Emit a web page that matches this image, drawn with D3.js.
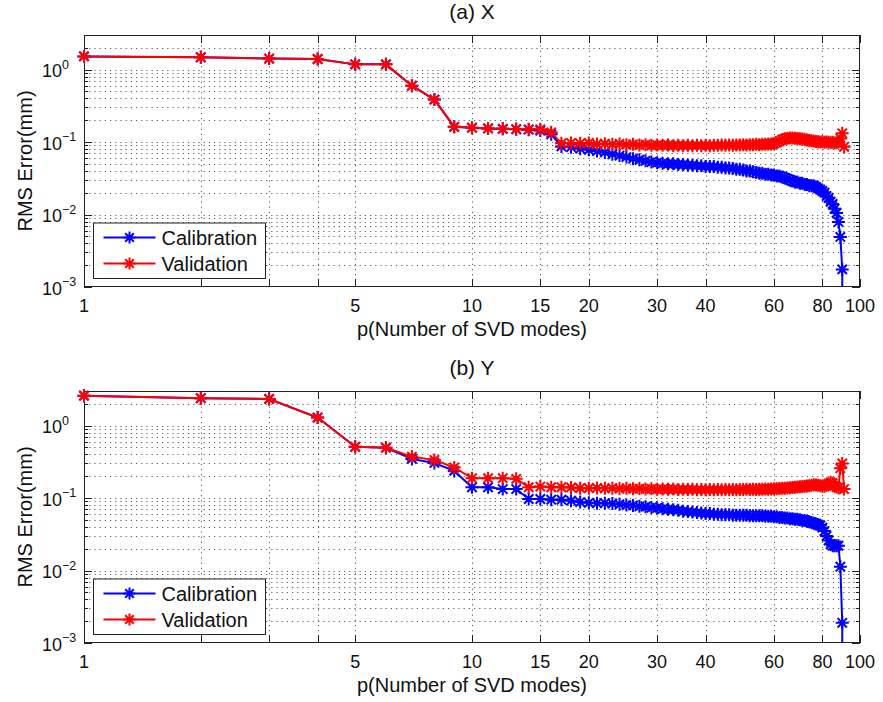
<!DOCTYPE html>
<html><head><meta charset="utf-8">
<script src="https://cdn.jsdelivr.net/npm/d3@7"></script>
<style>
html,body{margin:0;padding:0;background:#fff;}
svg{display:block;font-family:"Liberation Sans",Arial,sans-serif;}
</style></head><body>
<svg id="chart" width="883" height="702"></svg>
<script>
// RMS error vs. number of SVD modes, p = 1, 2, 3, ...
const calX = [1.52,1.48,1.42,1.40,1.18,1.18,0.60,0.385,0.162,0.158,
 0.154,0.152,0.150,0.148,0.144,0.128,0.087,0.085,0.081,0.078,
 0.075,0.072,0.068,0.065,0.062,0.059,0.057,0.055,0.053,0.052,
 0.051,0.050,0.050,0.049,0.049,0.048,0.048,0.047,0.047,0.046,
 0.046,0.046,0.045,0.045,0.044,0.044,0.043,0.042,0.042,0.041,
 0.040,0.040,0.039,0.038,0.037,0.037,0.036,0.036,0.035,0.035,
 0.034,0.034,0.033,0.032,0.031,0.030,0.029,0.028,0.028,0.027,
 0.027,0.026,0.026,0.025,0.025,0.025,0.024,0.023,0.022,0.021,
 0.020,0.018,0.017,0.015,0.014,0.012,0.0105,0.0079,0.0049,0.00175,
 1e-16];
const valX = [1.52,1.48,1.42,1.40,1.18,1.18,0.60,0.385,0.162,0.158,
 0.154,0.152,0.151,0.150,0.150,0.136,0.096,0.097,0.096,0.097,
 0.094,0.095,0.093,0.094,0.092,0.093,0.091,0.092,0.090,0.091,
 0.090,0.091,0.089,0.090,0.089,0.090,0.089,0.090,0.089,0.090,
 0.089,0.090,0.090,0.091,0.090,0.091,0.090,0.091,0.091,0.092,
 0.091,0.092,0.092,0.093,0.092,0.093,0.093,0.094,0.094,0.095,
 0.098,0.103,0.108,0.111,0.113,0.114,0.114,0.113,0.112,0.111,
 0.110,0.109,0.107,0.105,0.104,0.103,0.102,0.101,0.100,0.101,
 0.099,0.100,0.099,0.098,0.099,0.097,0.098,0.100,0.112,0.132,
 0.086];
const calY = [2.59,2.39,2.33,1.29,0.51,0.495,0.347,0.305,0.237,0.141,
 0.141,0.133,0.133,0.097,0.097,0.095,0.095,0.092,0.088,0.086,
 0.085,0.085,0.084,0.082,0.080,0.079,0.077,0.076,0.074,0.073,
 0.071,0.070,0.069,0.068,0.066,0.065,0.064,0.063,0.062,0.061,
 0.061,0.060,0.060,0.059,0.059,0.059,0.058,0.058,0.058,0.058,
 0.058,0.057,0.057,0.057,0.057,0.057,0.056,0.056,0.056,0.055,
 0.055,0.054,0.054,0.053,0.053,0.052,0.052,0.051,0.051,0.050,
 0.049,0.049,0.048,0.047,0.046,0.045,0.044,0.043,0.042,0.039,
 0.035,0.030,0.026,0.023,0.022,0.022,0.022,0.022,0.0113,0.0019,
 1e-16];
const valY = [2.59,2.39,2.33,1.29,0.51,0.495,0.373,0.336,0.264,0.188,
 0.188,0.188,0.184,0.141,0.144,0.141,0.141,0.140,0.137,0.137,
 0.138,0.136,0.137,0.135,0.136,0.134,0.135,0.133,0.134,0.132,
 0.133,0.132,0.133,0.131,0.132,0.131,0.132,0.130,0.131,0.130,
 0.131,0.130,0.131,0.130,0.131,0.130,0.131,0.130,0.131,0.131,
 0.132,0.131,0.132,0.131,0.132,0.132,0.133,0.132,0.133,0.134,
 0.134,0.135,0.136,0.137,0.138,0.139,0.140,0.141,0.142,0.143,
 0.144,0.146,0.147,0.148,0.150,0.152,0.151,0.150,0.148,0.146,
 0.145,0.150,0.158,0.165,0.160,0.150,0.142,0.138,0.258,0.300,
 0.133];

const panelTitles = ["(a) X", "(b) Y"];
const seriesNames = ["Calibration", "Validation"];
const seriesColors = ["#0000ff", "#ff0000"];
const xTicks = [1, 2, 3, 4, 5, 10, 15, 20, 30, 40, 60, 80, 100];
const xTickLabels = ["1", "", "", "", "5", "10", "15", "20", "30", "40", "60", "80", "100"];
const yMajor = [1e-3, 1e-2, 1e-1, 1];
const yExponents = ["\u22123", "\u22122", "\u22121", "0"];
const xLabel = "p(Number of SVD modes)";
const yLabel = "RMS Error(mm)";

const svg = d3.select("#chart");
const plotLeft = 84, plotW = 776, plotH = 252;
const panelTops = [35, 391];
const yDomain = [1e-3, 3];

// eight-armed asterisk marker
function asterisk(r) {
  const d = r * 0.72;
  return `M${-r},0L${r},0M0,${-r}L0,${r}M${-d},${-d}L${d},${d}M${-d},${d}L${d},${-d}`;
}

function drawPanel(idx, series) {
  const g = svg.append("g").attr("transform", `translate(${plotLeft},${panelTops[idx]})`);
  const x = d3.scaleLog().domain([1, 100]).range([0, plotW]);
  const y = d3.scaleLog().domain(yDomain).range([plotH, 0]);

  const clipId = "clip" + idx;
  g.append("clipPath").attr("id", clipId)
    .append("rect").attr("x", 0).attr("y", 0).attr("width", plotW).attr("height", plotH);

  // grid
  const grid = g.append("g").attr("stroke", "#333").attr("stroke-width", 0.8)
    .attr("stroke-dasharray", "1.2,4").attr("fill", "none");
  const yGrid = y.ticks().filter(v => v > yDomain[0] * 1.0001 && v < yDomain[1] * 0.9999);
  grid.selectAll("line.hy").data(yGrid).join("line")
    .attr("x1", 0).attr("x2", plotW)
    .attr("y1", d => Math.round(y(d)) + 0.5).attr("y2", d => Math.round(y(d)) + 0.5);
  grid.selectAll("line.vx").data(xTicks.filter(t => t > 1 && t < 100)).join("line")
    .attr("y1", 0).attr("y2", plotH)
    .attr("x1", d => Math.round(x(d)) + 0.5).attr("x2", d => Math.round(x(d)) + 0.5);

  // ticks
  const tk = g.append("g").attr("stroke", "#222").attr("stroke-width", 1);
  xTicks.forEach(t => {
    const xx = Math.round(x(t)) + 0.5;
    tk.append("line").attr("x1", xx).attr("x2", xx).attr("y1", plotH).attr("y2", plotH - 8);
    tk.append("line").attr("x1", xx).attr("x2", xx).attr("y1", 0).attr("y2", 8);
  });
  y.ticks().filter(v => v >= yDomain[0] && v <= yDomain[1]).forEach(v => {
    const yy = Math.round(y(v)) + 0.5;
    const major = yMajor.some(m => Math.abs(m - v) / m < 1e-6);
    const len = major ? 8 : 4;
    tk.append("line").attr("x1", 0).attr("x2", len).attr("y1", yy).attr("y2", yy);
    tk.append("line").attr("x1", plotW).attr("x2", plotW - len).attr("y1", yy).attr("y2", yy);
  });

  // frame
  g.append("rect").attr("x", 0.5).attr("y", 0.5).attr("width", plotW - 1).attr("height", plotH - 1)
    .attr("fill", "none").attr("stroke", "#222").attr("stroke-width", 1);

  // tick labels
  g.append("g").selectAll("text").data(xTicks).join("text")
    .attr("x", d => x(d)).attr("y", plotH + 24.5)
    .attr("text-anchor", "middle").attr("font-size", 18).attr("fill", "#111")
    .text((d, i) => xTickLabels[i]);
  yMajor.forEach((v, i) => {
    const t = g.append("text").attr("x", -42).attr("y", y(v) + 7.5)
      .attr("font-size", 18).attr("fill", "#111");
    t.append("tspan").text("10");
    t.append("tspan").attr("dy", -8.5).attr("font-size", 12.5).text(yExponents[i]);
  });

  // axis labels and title
  g.append("text").attr("x", plotW / 2).attr("y", plotH + 49)
    .attr("text-anchor", "middle").attr("font-size", 20).attr("fill", "#111").text(xLabel);
  g.append("text").attr("transform", `translate(-52,${plotH / 2}) rotate(-90)`)
    .attr("text-anchor", "middle").attr("font-size", 20).attr("fill", "#111").text(yLabel);
  g.append("text").attr("x", plotW / 2).attr("y", -16)
    .attr("text-anchor", "middle").attr("font-size", 21).attr("fill", "#111").text(panelTitles[idx]);

  // data: lines clipped to the axes, markers drawn whole when their point lies inside
  const line = d3.line().x((d, i) => x(i + 1)).y(d => y(d));
  series.forEach((vals, s) => {
    const sg = g.append("g");
    sg.append("path").datum(vals).attr("d", line).attr("clip-path", `url(#${clipId})`)
      .attr("fill", "none").attr("stroke", seriesColors[s]).attr("stroke-width", 2)
      .attr("stroke-linejoin", "round");
    const pts = vals.map((v, i) => ({p: i + 1, v})).filter(d => d.v >= yDomain[0] && d.v <= yDomain[1]);
    sg.append("g").selectAll("path").data(pts).join("path")
      .attr("transform", d => `translate(${x(d.p)},${y(d.v)})`)
      .attr("d", asterisk(6.5)).attr("fill", "none")
      .attr("stroke", seriesColors[s]).attr("stroke-width", 2);
  });

  // legend
  const lg = g.append("g").attr("transform", "translate(9.5,188)");
  lg.append("rect").attr("x", 0).attr("y", 0).attr("width", 172).attr("height", 55.5)
    .attr("fill", "#fff").attr("stroke", "#222").attr("stroke-width", 1);
  seriesNames.forEach((name, s) => {
    const ry = 14.5 + s * 26;
    lg.append("line").attr("x1", 10).attr("x2", 62).attr("y1", ry).attr("y2", ry)
      .attr("stroke", seriesColors[s]).attr("stroke-width", 2);
    lg.append("path").attr("transform", `translate(36,${ry})`).attr("d", asterisk(6))
      .attr("fill", "none").attr("stroke", seriesColors[s]).attr("stroke-width", 2);
    lg.append("text").attr("x", 68).attr("y", ry + 7).attr("font-size", 20)
      .attr("fill", "#111").text(name);
  });
}

drawPanel(0, [calX, valX]);
drawPanel(1, [calY, valY]);
</script>
</body></html>
